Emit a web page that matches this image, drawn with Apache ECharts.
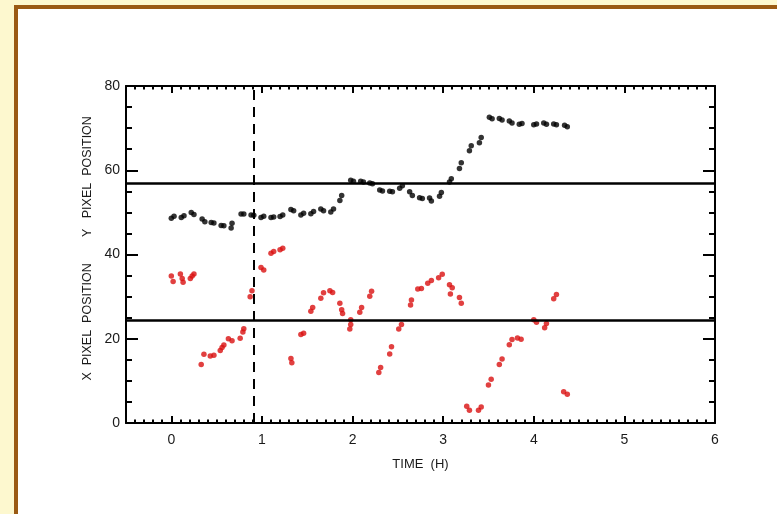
<!DOCTYPE html>
<html>
<head>
<meta charset="utf-8">
<script src="https://cdn.jsdelivr.net/npm/echarts@6/dist/echarts.min.js"></script>
<style>
  html, body { margin: 0; padding: 0; width: 777px; height: 514px; overflow: hidden; background: #fdf8cf; }
  #frame { position: absolute; left: 14px; top: 5px; width: 800px; height: 600px; border: 4px solid #9a5a14; background: #ffffff; }
  #chart { position: absolute; left: 0; top: 0; width: 777px; height: 514px; }
</style>
</head>
<body>
<div id="frame"></div>
<div id="chart"></div>
<script>
// Y pixel position (black) — each tracked dash is a pair of close samples
const yPosTime = [
  0.00, 0.03, 0.11, 0.14, 0.22, 0.25, 0.34, 0.37, 0.44, 0.47, 0.55, 0.58, 0.66, 0.67,
  0.77, 0.80, 0.88, 0.91, 0.99, 1.02, 1.10, 1.13, 1.20, 1.23, 1.32, 1.35, 1.43, 1.46,
  1.54, 1.57, 1.65, 1.68, 1.76, 1.79, 1.86, 1.88, 1.98, 2.01, 2.09, 2.12, 2.19, 2.22,
  2.30, 2.33, 2.41, 2.44, 2.52, 2.55, 2.63, 2.66, 2.74, 2.77, 2.85, 2.87, 2.96, 2.98,
  3.07, 3.09, 3.18, 3.20, 3.29, 3.31, 3.40, 3.42, 3.51, 3.54, 3.62, 3.65, 3.73, 3.76,
  3.84, 3.87, 4.00, 4.03, 4.11, 4.14, 4.22, 4.25, 4.34, 4.37
];
const yPosValue = [
  48.6, 49.1, 48.8, 49.2, 50.0, 49.5, 48.4, 47.8, 47.6, 47.5, 46.9, 46.8, 46.3, 47.4,
  49.6, 49.6, 49.4, 49.3, 48.8, 49.1, 48.8, 48.9, 49.0, 49.4, 50.7, 50.4, 49.4, 49.8,
  49.7, 50.2, 50.8, 50.4, 50.1, 50.8, 52.8, 54.0, 57.6, 57.4, 57.4, 57.2, 57.0, 56.8,
  55.3, 55.1, 55.0, 54.9, 55.7, 56.3, 54.9, 54.0, 53.5, 53.3, 53.4, 52.7, 53.8, 54.7,
  57.2, 58.0, 60.4, 61.8, 64.6, 65.8, 66.5, 67.8, 72.6, 72.2, 72.3, 71.9, 71.7, 71.2,
  70.9, 71.1, 70.8, 71.0, 71.2, 70.9, 71.0, 70.8, 70.7, 70.3
];

// X pixel position (red)
const xPosTime = [
  0.00, 0.02, 0.10, 0.12, 0.13, 0.21, 0.23, 0.25,
  0.33, 0.36, 0.43, 0.47, 0.54, 0.56, 0.58, 0.63, 0.67, 0.76, 0.79, 0.80,
  0.87, 0.89, 0.99, 1.02, 1.10, 1.13, 1.20, 1.23,
  1.32, 1.33, 1.43, 1.46, 1.54, 1.56, 1.65, 1.68, 1.75, 1.78,
  1.86, 1.88, 1.89, 1.98, 1.98, 1.97, 2.08, 2.10, 2.19, 2.21,
  2.29, 2.31, 2.41, 2.43, 2.51, 2.54, 2.64, 2.65, 2.72, 2.76,
  2.83, 2.87, 2.95, 2.99, 3.07, 3.10, 3.08, 3.18, 3.20,
  3.26, 3.29, 3.39, 3.42, 3.50, 3.53, 3.62, 3.65, 3.73, 3.76,
  3.82, 3.86, 4.00, 4.03, 4.12, 4.14, 4.22, 4.25, 4.33, 4.37
];
const xPosValue = [
  34.9, 33.6, 35.4, 34.3, 33.4, 34.3, 34.9, 35.4,
  13.9, 16.3, 15.9, 16.1, 17.2, 17.9, 18.5, 20.0, 19.5, 20.1, 21.6, 22.4,
  30.0, 31.4, 36.9, 36.3, 40.3, 40.7, 41.1, 41.5,
  15.3, 14.3, 21.0, 21.3, 26.5, 27.4, 29.6, 30.9, 31.4, 31.0,
  28.4, 26.9, 26.0, 24.5, 23.4, 22.3, 26.3, 27.4, 30.1, 31.3,
  12.0, 13.2, 16.4, 18.1, 22.3, 23.4, 28.0, 29.2, 31.8, 31.9,
  33.2, 33.8, 34.5, 35.3, 32.8, 32.1, 30.6, 29.8, 28.4,
  4.0, 3.0, 3.0, 3.8, 9.0, 10.4, 13.9, 15.2, 18.6, 19.8,
  20.2, 19.9, 24.5, 23.9, 22.6, 23.6, 29.5, 30.5, 7.4, 6.8
];

// Reference levels and event marker
const yLevel = 56.8;
const xLevel = 24.3;
const eventTime = 0.91;

// Axis ticks
const timeTicks = [0, 1, 2, 3, 4, 5, 6];
const pixelTicks = [0, 20, 40, 60, 80];

const FONT = 'Liberation Sans';
const INK = '#000';
const TEXT = '#1a1a1a';

function pairs(xs, ys) { return xs.map((x, i) => [x, ys[i]]); }

const chart = echarts.init(document.getElementById('chart'), null, { renderer: 'canvas' });

const lineAxis = { show: true, onZero: false, lineStyle: { color: INK, width: 2 } };
const noLine = { show: false, onZero: false };

const option = {
  backgroundColor: 'transparent',
  animation: false,
  grid: { left: 126, right: 62, top: 86, bottom: 91, containLabel: false },
  xAxis: [
    {
      type: 'value', position: 'bottom', min: -0.5, max: 6, interval: 0.5,
      axisLine: lineAxis,
      axisTick: { show: true, inside: true, length: 7, customValues: timeTicks, lineStyle: { color: INK, width: 2 } },
      axisLabel: { show: true, customValues: timeTicks, margin: 10, fontFamily: FONT, fontSize: 14, color: TEXT },
      splitLine: { show: false },
      name: 'TIME  (H)', nameLocation: 'middle', nameGap: 35,
      nameTextStyle: { fontFamily: FONT, fontSize: 13, color: TEXT }
    },
    {
      type: 'value', position: 'bottom', min: -0.5, max: 6, interval: 0.1,
      axisLine: noLine,
      axisTick: { show: true, inside: true, length: 3.5, lineStyle: { color: INK, width: 2 } },
      axisLabel: { show: false }, splitLine: { show: false }
    },
    {
      type: 'value', position: 'top', min: -0.5, max: 6, interval: 0.5,
      axisLine: lineAxis,
      axisTick: { show: true, inside: true, length: 7, customValues: timeTicks, lineStyle: { color: INK, width: 2 } },
      axisLabel: { show: false }, splitLine: { show: false }
    },
    {
      type: 'value', position: 'top', min: -0.5, max: 6, interval: 0.1,
      axisLine: noLine,
      axisTick: { show: true, inside: true, length: 3.5, lineStyle: { color: INK, width: 2 } },
      axisLabel: { show: false }, splitLine: { show: false }
    }
  ],
  yAxis: [
    {
      type: 'value', position: 'left', min: 0, max: 80, interval: 20,
      axisLine: lineAxis,
      axisTick: { show: true, inside: true, length: 12, customValues: pixelTicks, lineStyle: { color: INK, width: 2 } },
      minorTick: { show: true, splitNumber: 4, length: 6, lineStyle: { color: INK, width: 2 } },
      axisLabel: { show: true, customValues: pixelTicks, margin: 6, fontFamily: FONT, fontSize: 14, color: TEXT },
      splitLine: { show: false }
    },
    {
      type: 'value', position: 'right', min: 0, max: 80, interval: 20,
      axisLine: lineAxis,
      axisTick: { show: true, inside: true, length: 12, lineStyle: { color: INK, width: 2 } },
      minorTick: { show: true, splitNumber: 4, length: 6, lineStyle: { color: INK, width: 2 } },
      axisLabel: { show: false }, splitLine: { show: false }
    }
  ],
  series: [
    {
      name: 'Y PIXEL POSITION', type: 'scatter', xAxisIndex: 0, yAxisIndex: 0,
      data: pairs(yPosTime, yPosValue), symbol: 'circle', symbolSize: 5.5,
      itemStyle: { color: '#000' }, z: 3,
      markLine: {
        silent: true, symbol: 'none', label: { show: false },
        lineStyle: { color: INK, width: 2.5, type: 'solid' },
        data: [{ yAxis: yLevel }, { yAxis: xLevel }]
      }
    },
    {
      name: 'X PIXEL POSITION', type: 'scatter', xAxisIndex: 0, yAxisIndex: 0,
      data: pairs(xPosTime, xPosValue), symbol: 'circle', symbolSize: 5.5,
      itemStyle: { color: '#d91010' }, z: 3,
      markLine: {
        silent: true, symbol: 'none', label: { show: false },
        lineStyle: { color: INK, width: 2, type: [10, 7] },
        data: [{ xAxis: eventTime }]
      }
    }
  ]
};

chart.setOption(option);

// Rotated axis titles, centred beside their halves of the vertical scale
function placeTitles() {
  const g = chart.getModel().getComponent('grid').coordinateSystem.getRect();
  const yA = chart.convertToPixel({ yAxisIndex: 0 }, 58.5);
  const xA = chart.convertToPixel({ yAxisIndex: 0 }, 24);
  const px = g.x - 38;
  chart.setOption({
    graphic: [
      { id: 'ytitle', type: 'text', x: px, y: yA, rotation: Math.PI / 2,
        style: { text: 'Y   PIXEL  POSITION', font: '12.5px "Liberation Sans"', fill: TEXT, align: 'center', verticalAlign: 'middle' } },
      { id: 'xtitle', type: 'text', x: px, y: xA, rotation: Math.PI / 2,
        style: { text: 'X  PIXEL  POSITION', font: '12.5px "Liberation Sans"', fill: TEXT, align: 'center', verticalAlign: 'middle' } }
    ]
  });
}
placeTitles();
</script>
</body>
</html>
